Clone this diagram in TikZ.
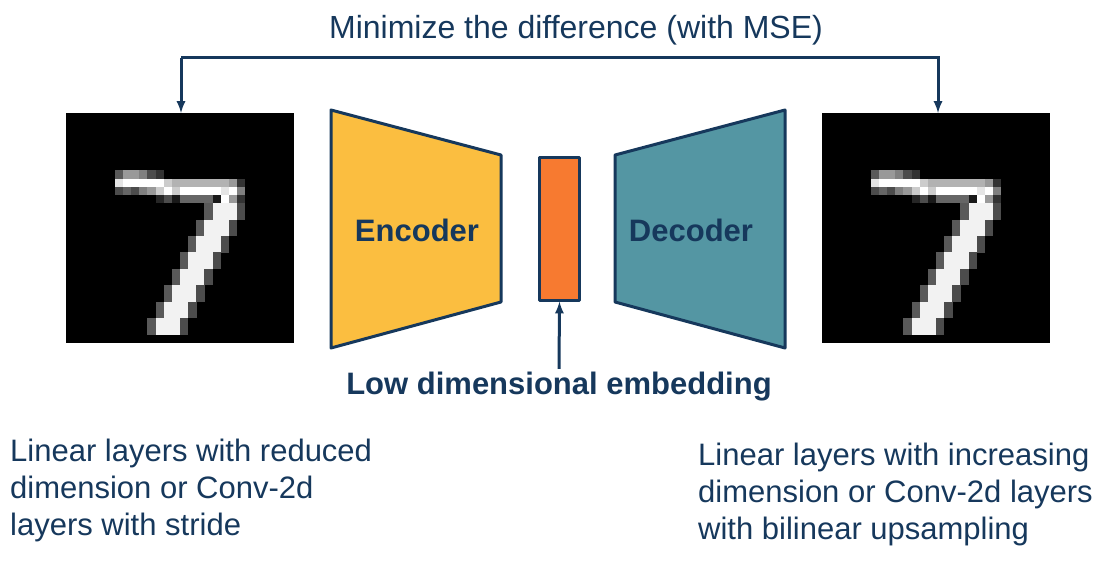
\documentclass[tikz,border=0pt]{standalone}
\usepackage{fontspec}
\setmainfont{Liberation Sans}
\definecolor{navy}{RGB}{22,56,92}
\definecolor{encfill}{RGB}{251,190,64}
\definecolor{embfill}{RGB}{247,122,48}
\definecolor{decfill}{RGB}{84,150,163}

\begin{document}
\begin{tikzpicture}[x=1pt, y=-1pt,
    block/.style={draw=navy, line width=3pt, line join=round},
    note/.style={text=navy, font=\fontsize{31}{37}\selectfont, align=left, anchor=north west, inner sep=0pt}]
    \useasboundingbox (0,0) rectangle (1113,569);

    % Bilder der Ziffer
    \foreach \ox/\nm in {66/inimg, 822/outimg} {
      \begin{scope}[shift={(\ox,113)}]
        \fill[black] (0,0) rectangle (228,230);
        \foreach \c/\r/\v in {6/7/35,7/7/60,8/7/60,9/7/50,10/7/30,11/7/20,
            6/8/90,7/8/100,8/8/100,9/8/100,10/8/100,11/8/100,12/8/80,13/8/70,14/8/70,15/8/70,16/8/70,17/8/70,18/8/70,19/8/70,20/8/60,21/8/20,
            6/9/30,7/9/40,8/9/30,9/9/50,10/9/60,11/9/80,12/9/100,13/9/80,14/9/100,15/9/100,16/9/100,17/9/100,18/9/100,19/9/90,20/9/100,21/9/50,
            11/10/15,12/10/30,13/10/10,14/10/40,15/10/40,16/10/40,17/10/40,18/10/10,19/10/100,20/10/60,21/10/20}
          \fill[white!\v!black] (\c*8.14,\r*8.2) rectangle ++(8.4,8.4);
        \foreach \r/\c in {11/18,12/18,13/17,14/17,15/16,16/16,17/15,18/15,19/14,20/14,21/13,22/13,23/12,24/12,25/11,26/11} {
          \fill[white!35!black] (\c*8.14-8.14,\r*8.2) rectangle ++(8.4,8.4);
          \fill[white!95!black] (\c*8.14,\r*8.2) rectangle ++(24.7,8.4);
          \fill[white!30!black] (\c*8.14+24.42,\r*8.2) rectangle ++(8.4,8.4);
        }
        \coordinate (\nm) at (115,0);
      \end{scope}
    }

    % Encoder, Einbettung, Decoder
    \draw[block, fill=encfill] (331,110) -- (501,155) -- (501,302) -- (331,348) -- cycle;
    \draw[block, fill=decfill] (615,155) -- (785,110) -- (785,348) -- (615,302) -- cycle;
    \node[block, fill=embfill, minimum width=40pt, minimum height=142pt, inner sep=0pt] (emb) at (559.5,229) {};
    \node[text=navy, font=\fontsize{31}{36}\selectfont\bfseries] (enc) at (417,230) {Encoder};
    \node[text=navy, font=\fontsize{31}{36}\selectfont\bfseries] (dec) at (691,230) {Decoder};

    % Beschriftung der Einbettung
    \node[text=navy, font=\fontsize{31}{36}\selectfont\bfseries] (lowdim) at (559,387) {Low dimensional embedding};
    \draw[navy, line width=3pt, -latex] (lowdim.north) -- (emb.south);

    % Verlust
    \node[text=navy, font=\fontsize{32}{38}\selectfont] (loss) at (576,30) {Minimize the difference (with MSE)};
    \coordinate (lt) at (181,58);
    \coordinate (rt) at (938,58);
    \draw[navy, line width=3pt, -latex] (lt) -- (inimg -| lt);
    \draw[navy, line width=3pt, -latex] (lt) -- (rt) -- (outimg -| rt);

    % Texte unten
    \node[note] (enctxt) at (10,439) {Linear layers with reduced\\dimension or Conv-2d\\layers with stride};
    \node[note] (dectxt) at (698,443) {Linear layers with increasing\\dimension or Conv-2d layers\\with bilinear upsampling};
\end{tikzpicture}
\end{document}
